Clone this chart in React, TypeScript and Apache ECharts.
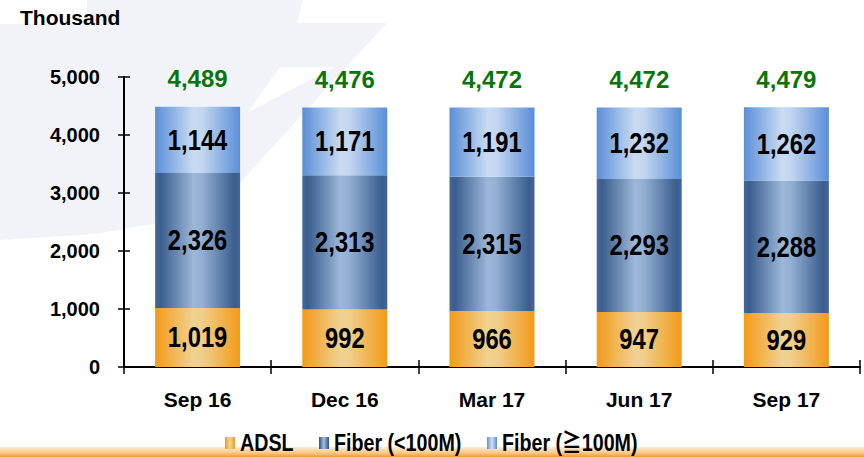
import React, { useEffect, useRef } from "react";
import * as echarts from "echarts";

const categories = ["Sep 16", "Dec 16", "Mar 17", "Jun 17", "Sep 17"];
const adsl = [1019, 992, 966, 947, 929];
const fiberLow = [2326, 2313, 2315, 2293, 2288];
const fiberHigh = [1144, 1171, 1191, 1232, 1262];
const totals = [4489, 4476, 4472, 4472, 4479];
const yTicks = [0, 1000, 2000, 3000, 4000, 5000];
const legendNames = ["ADSL", "Fiber (<100M)", "Fiber (≧100M)"];
const legendLefts = [225, 319, 487];

// "Arimo" marks texts that are drawn condensed (the reference uses a narrow face)
const NARROW = "'Liberation Sans', Arimo, 'Noto Sans CJK TC', sans-serif";
const REG = "'Liberation Sans', Arial, sans-serif";
const NARROW_SCALE = 0.82;

const hGrad = (stops: [number, string][]) => ({
  type: "linear",
  x: 0,
  y: 0,
  x2: 1,
  y2: 0,
  colorStops: stops.map(([offset, color]) => ({ offset, color })),
});

const adslColor = hGrad([
  [0, "#f39a18"],
  [0.45, "#efd291"],
  [0.55, "#efcf8b"],
  [1, "#f39a18"],
]);
const lowColor = hGrad([
  [0, "#46699a"],
  [0.06, "#3a5d8c"],
  [0.45, "#9bb7d9"],
  [0.55, "#93b0d4"],
  [0.94, "#3a5d8c"],
  [1, "#44679a"],
]);
const highColor = hGrad([
  [0, "#5a8fd7"],
  [0.45, "#c9dbf2"],
  [0.55, "#c4d7f0"],
  [1, "#5a8fd7"],
]);

const fmt = (v: number) => v.toLocaleString("en-US");

function condense(root: HTMLElement | null) {
  if (!root) return;
  root.querySelectorAll("text").forEach((t) => {
    const st = t.getAttribute("style") || "";
    if (!st.includes("Arimo") || t.getAttribute("data-cond")) return;
    const x = parseFloat(t.getAttribute("x") || "0") || 0;
    const y = parseFloat(t.getAttribute("y") || "0") || 0;
    const tr = t.getAttribute("transform") || "";
    t.setAttribute(
      "transform",
      `${tr} translate(${x} ${y}) scale(${NARROW_SCALE} 1) translate(${-x} ${-y})`.trim()
    );
    t.setAttribute("data-cond", "1");
  });
}

export default function App() {
  const ref = useRef<HTMLDivElement>(null);
  useEffect(() => {
    if (!ref.current) return;
    const chart = echarts.init(ref.current, undefined, { renderer: "svg" });
    const inLabel = {
      show: true,
      position: "inside",
      color: "#000",
      fontFamily: NARROW,
      fontWeight: "bold",
      fontSize: 29,
      formatter: (p: any) => fmt(p.value),
    };
    const legends = legendNames.map((name, i) => ({
      left: legendLefts[i],
      top: 431,
      padding: 0,
      itemWidth: 10,
      itemHeight: 12,
      icon: "rect",
      data: [name],
      textStyle: { fontFamily: NARROW, fontWeight: "bold", fontSize: 24, color: "#000" },
    }));
    chart.on("finished", () => condense(ref.current));
    chart.setOption({
      animation: false,
      backgroundColor: "#ffffff",
      title: {
        text: "Thousand",
        left: 20,
        top: 7,
        padding: 0,
        textStyle: { fontFamily: REG, fontWeight: "bold", fontSize: 21, color: "#000" },
      },
      graphic: [
        {
          type: "polygon",
          z: -10,
          silent: true,
          shape: {
            points: [
              [0, 24], [87, 24], [87, 0], [303, 0], [297, 23], [387, 23],
              [267, 153], [232, 192], [175, 220], [95, 234], [0, 240],
            ],
          },
          style: { fill: "#f2f3f8" },
        },
        {
          type: "polygon",
          z: -9,
          silent: true,
          shape: { points: [[280, 67], [335, 67], [248, 112]] },
          style: { fill: "#ffffff" },
        },
        {
          type: "rect",
          z: -8,
          silent: true,
          shape: { x: 0, y: 447, width: 864, height: 10 },
          style: {
            fill: {
              type: "linear",
              x: 0, y: 0, x2: 0, y2: 1,
              colorStops: [
                { offset: 0, color: "#fdebd3" },
                { offset: 0.6, color: "#f9c886" },
                { offset: 1, color: "#f29a2a" },
              ],
            },
          },
        },
      ],
      legend: legends,
      grid: { left: 124, right: 4, top: 77, bottom: 90 },
      xAxis: [
        {
          type: "category",
          data: categories,
          position: "bottom",
          axisLine: { lineStyle: { color: "#000", width: 2 } },
          axisTick: { show: true, length: 7, lineStyle: { color: "#000", width: 1.5 } },
          axisLabel: {
            margin: 22,
            color: "#000",
            fontFamily: REG,
            fontWeight: "bold",
            fontSize: 21,
          },
        },
        {
          type: "category",
          data: categories,
          position: "bottom",
          axisLine: { show: false },
          axisTick: { show: true, inside: true, length: 7, lineStyle: { color: "#000", width: 1.5 } },
          axisLabel: { show: false },
        },
      ],
      yAxis: [
        {
          type: "value",
          min: 0,
          max: 5000,
          interval: 1000,
          axisLine: { show: true, lineStyle: { color: "#000", width: 2 } },
          axisTick: { show: true, length: 6, lineStyle: { color: "#000", width: 1.5 } },
          splitLine: { show: false },
          axisLabel: {
            margin: 24,
            color: "#000",
            fontFamily: REG,
            fontWeight: "bold",
            fontSize: 20,
            formatter: (v: number) => (yTicks.includes(v) ? fmt(v) : ""),
          },
        },
        {
          type: "value",
          min: 0,
          max: 5000,
          interval: 1000,
          position: "left",
          axisLine: { show: false },
          axisTick: { show: true, inside: true, length: 6, lineStyle: { color: "#000", width: 1.5 } },
          splitLine: { show: false },
          axisLabel: { show: false },
        },
      ],
      series: [
        {
          name: legendNames[0],
          type: "bar",
          stack: "s",
          barWidth: 85,
          data: adsl,
          itemStyle: { color: adslColor },
          label: inLabel,
        },
        {
          name: legendNames[1],
          type: "bar",
          stack: "s",
          barWidth: 85,
          data: fiberLow,
          itemStyle: { color: lowColor },
          label: inLabel,
        },
        {
          name: legendNames[2],
          type: "bar",
          stack: "s",
          barWidth: 85,
          data: fiberHigh,
          itemStyle: { color: highColor },
          label: inLabel,
        },
        {
          name: "Total",
          type: "bar",
          barWidth: 85,
          barGap: "-100%",
          data: totals,
          z: 1,
          silent: true,
          itemStyle: { color: "rgba(0,0,0,0)" },
          label: {
            show: true,
            position: "top",
            distance: 16,
            color: "#087508",
            fontFamily: REG,
            fontWeight: "bold",
            fontSize: 24,
            formatter: (p: any) => fmt(p.value),
          },
        },
      ],
    });
    const t1 = setTimeout(() => condense(ref.current), 0);
    const t2 = setTimeout(() => condense(ref.current), 50);
    return () => {
      clearTimeout(t1);
      clearTimeout(t2);
      chart.dispose();
    };
  }, []);
  return (
    <div
      ref={ref}
      style={{ position: "fixed", left: 0, top: 0, width: 864, height: 457 }}
    />
  );
}
